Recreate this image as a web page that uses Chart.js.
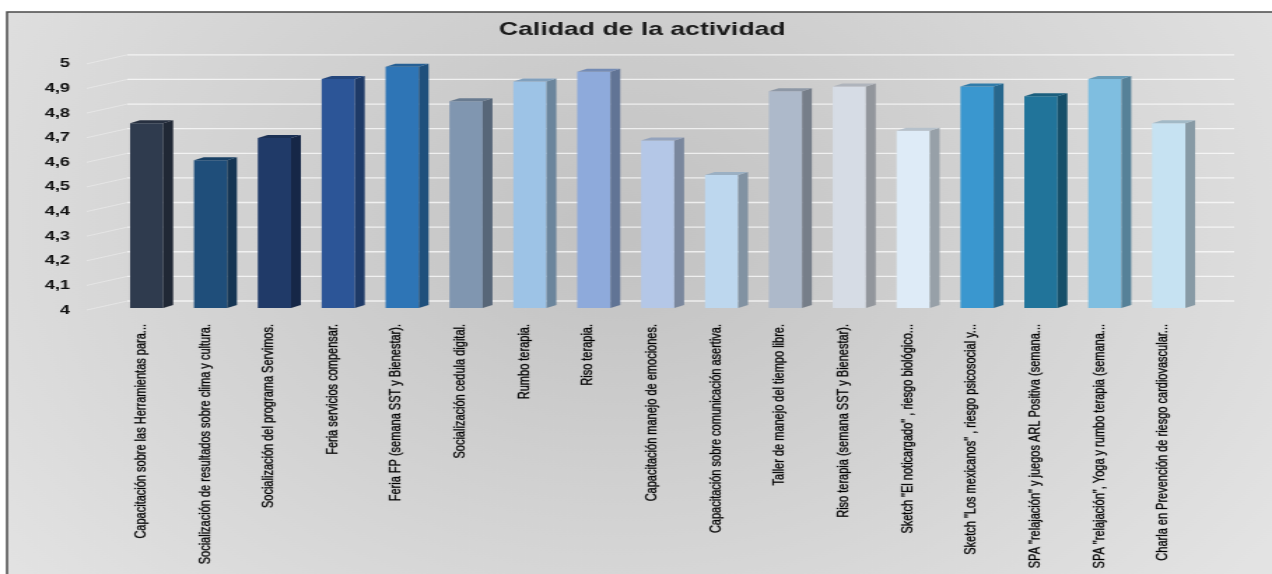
<!DOCTYPE html>
<html lang="es">
<head>
<meta charset="utf-8">
<title>Calidad de la actividad</title>
<script src="https://cdn.jsdelivr.net/npm/chart.js@4.4.1/dist/chart.umd.min.js"></script>
<style>
  html, body { margin: 0; padding: 0; background: #fff; overflow: hidden; }
</style>
</head>
<body>
<!-- the canvas is drawn narrow and stretched wide, like the original export -->
<canvas id="grafico" width="909" height="574" style="display:block;width:1272px;height:574px"></canvas>
<script>
const actividades = [
    'Capacitación sobre las Herramientas para...',
    'Socialización de resultados sobre clima y cultura.',
    'Socialización del programa Servimos.',
    'Feria servicios compensar.',
    'Feria FP (semana SST y Bienestar).',
    'Socialización cedula digital.',
    'Rumbo terapia.',
    'Riso terapia.',
    'Capacitación manejo de emociones.',
    'Capacitación sobre comunicación asertiva.',
    'Taller de manejo del tiempo libre.',
    'Riso terapia (semana SST y Bienestar).',
    'Sketch "El noticargado" , riesgo biológico...',
    'Sketch "Los mexicanos" , riesgo psicosocial y...',
    'SPA "relajación" y juegos ARL Positiva (semana...',
    'SPA "relajación", Yoga y rumbo terapia (semana...',
    'Charla en Prevención de riesgo cardiovascular...'
];

const calificaciones = [4.75, 4.6, 4.69, 4.93, 4.98, 4.84, 4.92, 4.96, 4.68, 4.54, 4.88, 4.9, 4.72, 4.9, 4.86, 4.93, 4.75];

const etiquetasY = ['4', '4,1', '4,2', '4,3', '4,4', '4,5', '4,6', '4,7', '4,8', '4,9', '5'];

const coloresBarras = [
    '#2f3b4e', '#1f4e7a', '#203a68', '#2c5597', '#2e75b6', '#8096b0',
    '#9dc3e6', '#8eaadb', '#b4c7e7', '#bdd7ee', '#adb9ca', '#d6dce5',
    '#deebf7', '#3a97cf', '#21749a', '#7fbee0', '#c6e2f2'
];

const fuente = "'Liberation Sans', Arial, sans-serif";

// darken a hex colour by factor f (0..1)
function sombra(hex, f) {
    const n = parseInt(hex.slice(1), 16);
    const r = Math.round(((n >> 16) & 255) * f);
    const g = Math.round(((n >> 8) & 255) * f);
    const b = Math.round((n & 255) * f);
    return `rgb(${r},${g},${b})`;
}

// grey gradient panel with the frame line on the left and top
const fondo = {
    id: 'fondo',
    beforeDraw(chart) {
        const { ctx, width, height } = chart;
        ctx.save();
        ctx.fillStyle = '#fff';
        ctx.fillRect(0, 0, width, height);
        const g = ctx.createRadialGradient(440, 230, 10, 440, 230, 560);
        g.addColorStop(0, '#c2c2c2');
        g.addColorStop(1, '#e3e3e3');
        ctx.fillStyle = g;
        ctx.fillRect(5, 12, width - 5, height - 12);
        ctx.strokeStyle = '#4a4a4a';
        ctx.lineWidth = 1.5;
        ctx.beginPath();
        ctx.moveTo(5, height);
        ctx.lineTo(5, 12);
        ctx.lineTo(width, 12);
        ctx.stroke();
        ctx.restore();
    }
};

// gridlines on the back wall plus the faint side-wall lines
const rejilla = {
    id: 'rejilla',
    beforeDatasetsDraw(chart) {
        const { ctx, chartArea, scales: { y } } = chart;
        ctx.save();
        y.ticks.forEach(t => {
            const py = y.getPixelForValue(t.value);
            ctx.strokeStyle = 'rgba(255,255,255,0.35)';
            ctx.lineWidth = 1;
            ctx.beginPath();
            ctx.moveTo(chartArea.left - 20, py + 2);
            ctx.lineTo(chartArea.left + 9, py - 7);
            ctx.stroke();
            ctx.strokeStyle = 'rgba(255,255,255,0.7)';
            ctx.lineWidth = 1.3;
            ctx.beginPath();
            ctx.moveTo(chartArea.left + 9, py - 7);
            ctx.lineTo(chartArea.right + 24, py - 7);
            ctx.stroke();
        });
        ctx.restore();
    }
};

// side and top faces so the columns look 3D
const relieve = {
    id: 'relieve',
    afterDatasetsDraw(chart) {
        const { ctx, chartArea } = chart;
        const dx = 7, dy = -3;
        ctx.save();
        chart.getDatasetMeta(0).data.forEach((bar, i) => {
            const { x, y, base, width } = bar.getProps(['x', 'y', 'base', 'width'], true);
            const fondoBarra = Math.min(base, chartArea.bottom);
            const l = x - width / 2, r = x + width / 2;
            ctx.fillStyle = sombra(coloresBarras[i], 0.68);
            ctx.beginPath();
            ctx.moveTo(r, y);
            ctx.lineTo(r + dx, y + dy);
            ctx.lineTo(r + dx, fondoBarra + dy);
            ctx.lineTo(r, fondoBarra);
            ctx.closePath();
            ctx.fill();
            ctx.fillStyle = sombra(coloresBarras[i], 0.82);
            ctx.beginPath();
            ctx.moveTo(l, y);
            ctx.lineTo(l + dx, y + dy);
            ctx.lineTo(r + dx, y + dy);
            ctx.lineTo(r, y);
            ctx.closePath();
            ctx.fill();
        });
        ctx.restore();
    }
};

new Chart(document.getElementById('grafico'), {
    type: 'bar',
    data: {
        labels: actividades,
        datasets: [{
            data: calificaciones,
            backgroundColor: coloresBarras,
            borderWidth: 0,
            barPercentage: 0.52,
            categoryPercentage: 1
        }]
    },
    options: {
        responsive: false,
        devicePixelRatio: 1,
        animation: false,
        layout: { padding: { top: 12, left: 9, right: 0, bottom: 0 } },
        plugins: {
            legend: { display: false },
            tooltip: { enabled: false },
            title: {
                display: true,
                text: 'Calidad de la actividad',
                color: '#1b1b1b',
                font: { family: fuente, size: 19, weight: 'bold' },
                padding: { top: 6, bottom: 21 }
            }
        },
        scales: {
            x: {
                grid: { display: false },
                border: { display: false },
                ticks: {
                    autoSkip: false,
                    minRotation: 90,
                    maxRotation: 90,
                    padding: 8,
                    labelOffset: -4,
                    color: '#000',
                    textStrokeColor: 'rgba(0,0,0,0.55)',
                    textStrokeWidth: 0.5,
                    font: { family: fuente, size: 11 }
                },
                afterFit(s) { s.height = 266; }
            },
            y: {
                min: 4,
                max: 5,
                grid: { display: false, drawTicks: false },
                border: { display: false },
                ticks: {
                    stepSize: 0.1,
                    padding: 32,
                    labelOffset: 2,
                    color: '#111',
                    font: { family: fuente, size: 13, weight: 'bold' },
                    callback: (v, i) => etiquetasY[i]
                },
                afterFit(s) { s.width = 73; }
            },
            // empty strip on the right, room for the back wall
            margen: {
                type: 'linear',
                position: 'right',
                grid: { display: false },
                border: { display: false },
                ticks: { display: false },
                afterFit(s) { s.width = 51; }
            }
        }
    },
    plugins: [fondo, rejilla, relieve]
});
</script>
</body>
</html>
